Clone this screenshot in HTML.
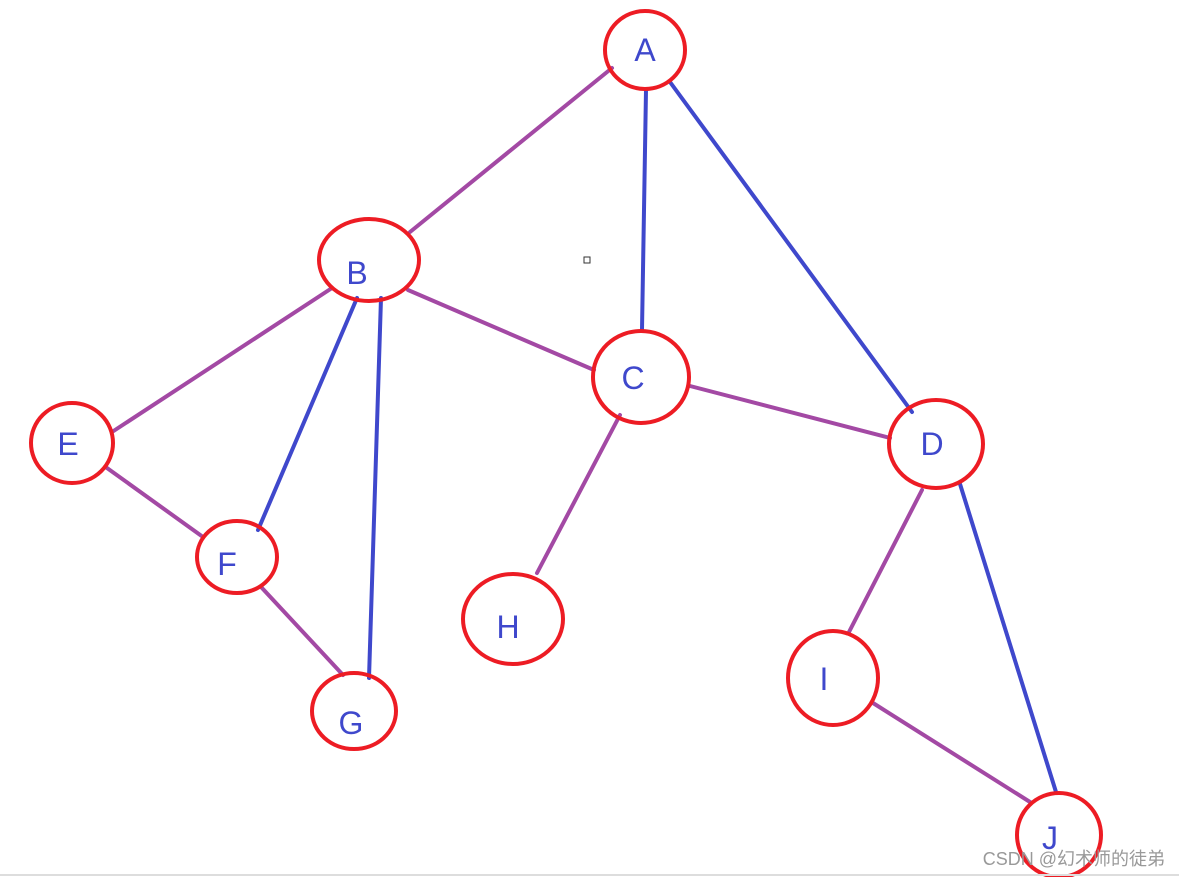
<!DOCTYPE html>
<html><head><meta charset="utf-8"><style>
html,body{margin:0;padding:0;background:#fff;}
svg{display:block;}
text{font-family:"Liberation Sans",sans-serif;}
</style></head><body>
<svg width="1179" height="877" viewBox="0 0 1179 877" xmlns="http://www.w3.org/2000/svg">
<g stroke-width="4" stroke-linecap="round" fill="none">
<line x1="612" y1="68" x2="410" y2="232" stroke="#a349a4"/>
<line x1="646" y1="90" x2="642" y2="330" stroke="#3f48cc"/>
<line x1="670" y1="82" x2="912" y2="412" stroke="#3f48cc"/>
<line x1="408" y1="290" x2="594" y2="370" stroke="#a349a4"/>
<line x1="332" y1="288" x2="112" y2="432" stroke="#a349a4"/>
<line x1="357" y1="298" x2="258" y2="530" stroke="#3f48cc"/>
<line x1="381" y1="298" x2="369" y2="678" stroke="#3f48cc"/>
<line x1="690" y1="386" x2="890" y2="438" stroke="#a349a4"/>
<line x1="620" y1="415" x2="537" y2="573" stroke="#a349a4"/>
<line x1="922" y1="490" x2="849" y2="632" stroke="#a349a4"/>
<line x1="960" y1="484" x2="1056" y2="792" stroke="#3f48cc"/>
<line x1="107" y1="468" x2="203" y2="537" stroke="#a349a4"/>
<line x1="262" y1="588" x2="343" y2="675" stroke="#a349a4"/>
<line x1="873" y1="703" x2="1030" y2="802" stroke="#a349a4"/>
</g>
<g stroke="#ed1c24" stroke-width="4" fill="none">
<ellipse cx="645" cy="50" rx="40" ry="39"/>
<ellipse cx="369" cy="260" rx="50" ry="41"/>
<ellipse cx="641" cy="377" rx="48" ry="46"/>
<ellipse cx="936" cy="444" rx="47" ry="44"/>
<ellipse cx="72" cy="443" rx="41" ry="40"/>
<ellipse cx="237" cy="557" rx="40" ry="36"/>
<ellipse cx="354" cy="711" rx="42" ry="38"/>
<ellipse cx="513" cy="619" rx="50" ry="45"/>
<ellipse cx="833" cy="678" rx="45" ry="47"/>
<ellipse cx="1059" cy="835" rx="42" ry="42"/>
</g>
<rect x="584" y="257" width="6" height="6" fill="none" stroke="#333" stroke-width="1"/>
<g fill="#3f48cc" font-size="32" text-anchor="middle">
<text x="645" y="61">A</text>
<text x="357" y="284">B</text>
<text x="633" y="389">C</text>
<text x="932" y="455">D</text>
<text x="68" y="455">E</text>
<text x="227" y="575">F</text>
<text x="351" y="734">G</text>
<text x="508" y="638">H</text>
<text x="824" y="690">I</text>
<text x="1050" y="849">J</text>
</g>
<text x="1165" y="865" text-anchor="end" font-size="18" fill="#999" style="font-family:'Liberation Sans','Noto Sans CJK SC',sans-serif">CSDN @幻术师的徒弟</text>
<line x1="0" y1="875" x2="1179" y2="875" stroke="#ddd" stroke-width="2"/>
</svg>
</body></html>
